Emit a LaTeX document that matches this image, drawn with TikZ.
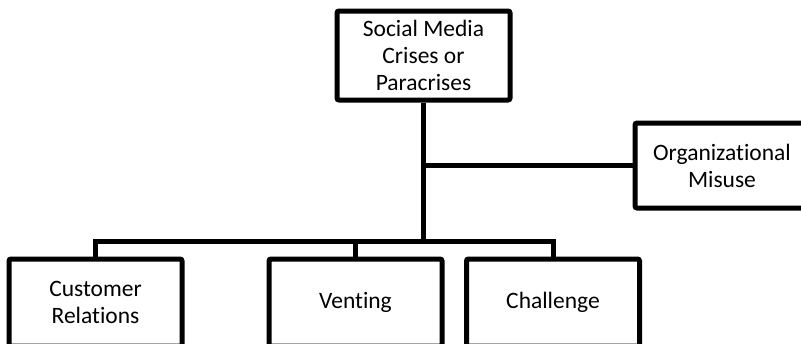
\documentclass[tikz,border=0pt]{standalone}
\usepackage{fontspec}
\setmainfont{Carlito}[Ligatures=NoCommon]
\begin{document}
\begin{tikzpicture}[x=1pt, y=-1pt, line width=5pt,
  every node/.style = {shape=rectangle, rounded corners=2pt,
    draw, align=center, fill=white,
    font=\fontsize{23.5}{27}\selectfont,
    minimum width=173pt, minimum height=87pt}]
  \useasboundingbox (0,0) rectangle (801,343);
  \clip (0,0) rectangle (801,343);
  \node (crisis) [minimum height=89pt] at (423.5,55.5) {Social Media\\ Crises or\\ Paracrises};
  \node (misuse) [minimum width=174pt, minimum height=85pt] at (722,165.5) {Organizational\\ Misuse};
  \node (customer) at (95.5,302.5) {Customer\\ Relations};
  \node (venting) at (355.5,302.5) {Venting};
  \node (challenge) at (553,302.5) {Challenge};
  \coordinate (bar) at (423.5,241);
  \draw (crisis.south) -- (bar);
  \draw (crisis.south |- misuse.west) -- (misuse.west);
  \draw (customer.north) -- (customer.north |- bar) -- (challenge.north |- bar) -- (challenge.north);
  \draw (venting.north |- bar) -- (venting.north);
\end{tikzpicture}
\end{document}
